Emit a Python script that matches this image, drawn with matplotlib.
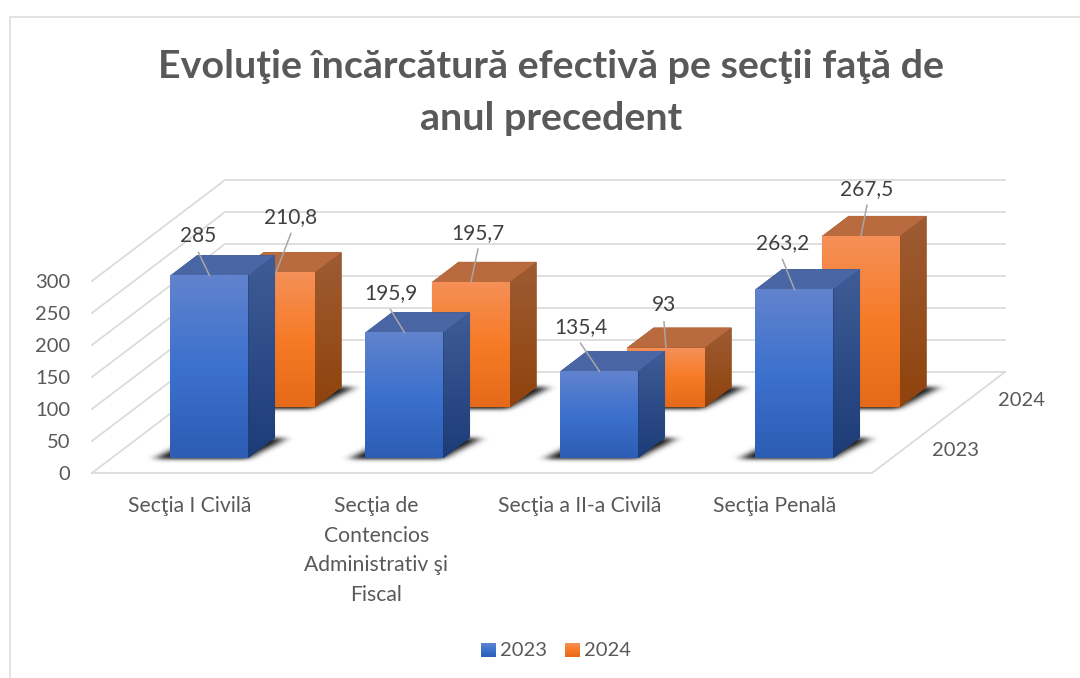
# -*- coding: utf-8 -*-
"""Grafic 3D cu bare: incarcatura efectiva pe sectii, 2023 fata de 2024."""

import numpy as np
import matplotlib
matplotlib.use("Agg")
import matplotlib.pyplot as plt
from matplotlib.patches import Polygon
from matplotlib.path import Path

plt.rcParams["font.family"] = ["Lato", "DejaVu Sans"]

CATEGORIES = ["Secţia I Civilă",
              "Secţia de\nContencios\nAdministrativ şi\nFiscal",
              "Secţia a II-a Civilă",
              "Secţia Penală"]
SERIES = ["2023", "2024"]
VALUES_2023 = [285, 195.9, 135.4, 263.2]
VALUES_2024 = [210.8, 195.7, 93, 267.5]
LABELS_2023 = ["285", "195,9", "135,4", "263,2"]
LABELS_2024 = ["210,8", "195,7", "93", "267,5"]
Y_TICKS = [0, 50, 100, 150, 200, 250, 300]
TITLE = "Evoluţie încărcătură efectivă pe secţii faţă de\nanul precedent"

# pozitia etichetelor fata de mijlocul muchiei de sus a barei (pixeli)
OFFSETS_2023 = [(-11, -41), (-14, -41), (-19, -46), (-12, -48)]
OFFSETS_2024 = [(15, -57), (7, -51), (-2, -44), (6, -49)]
CAT_DX = [0, -8, 0, 0]

# proiectia oblica: origine, latime categorie, adancime, pixeli pe unitate
X0, Y0 = 92, 473
CAT_W = 195
DEPTH_X, DEPTH_Y = 133, 101
PX_PER_UNIT = 0.64
BAR_W = 0.4
BAR_D = 0.2

GRID = "#D9D9D9"
TEXT = "#595959"
BLUE = {"front": ["#6283CD", "#3C71CE", "#2D5DB4"],
        "side": ["#3F5C96", "#1C3C78"],
        "top": ["#4A66A4", "#4A66A4"]}
ORANGE = {"front": ["#F59058", "#F77B26", "#E56A19"],
          "side": ["#9E5C33", "#8F430D"],
          "top": ["#B96B3F", "#B96B3F"]}


def proj(x, d, z):
    return X0 + CAT_W * x + DEPTH_X * d, Y0 - PX_PER_UNIT * z - DEPTH_Y * d


def gradient_poly(ax, pts, stops, zorder):
    pts = np.array(pts)
    n = 128
    t = np.linspace(0, 1, n)
    pos = np.linspace(0, 1, len(stops))
    rgb = np.array([matplotlib.colors.to_rgb(c) for c in stops])
    img = np.stack([np.interp(t, pos, rgb[:, k]) for k in range(3)], axis=1)
    img = img[:, None, :]
    ext = (pts[:, 0].min(), pts[:, 0].max(), pts[:, 1].max(), pts[:, 1].min())
    im = ax.imshow(img, extent=ext, aspect="auto", zorder=zorder,
                   interpolation="bilinear")
    clip = Polygon(pts, closed=True, transform=ax.transData)
    im.set_clip_path(clip)


def blur(mask, sigma, axis):
    r = int(3 * sigma)
    k = np.exp(-0.5 * (np.arange(-r, r + 1) / sigma) ** 2)
    k /= k.sum()
    return np.apply_along_axis(lambda m: np.convolve(m, k, mode="same"), axis, mask)


def draw_shadow(ax, x0, x1, d0, d1, zorder):
    # umbra estompata pe podea: amprenta barei, neteda mai mult pe orizontala
    pts = np.array([proj(x0 - 0.075, d0 - 0.012, 0), proj(x1, d0 - 0.012, 0),
                    proj(x1 + 0.065, d1, 0), proj(x0, d1, 0)])
    left, right = int(pts[:, 0].min()) - 25, int(pts[:, 0].max()) + 25
    up, down = int(pts[:, 1].min()) - 15, int(pts[:, 1].max()) + 15
    xx, yy = np.meshgrid(np.arange(left, right) + 0.5, np.arange(up, down) + 0.5)
    grid = np.column_stack([xx.ravel(), yy.ravel()])
    mask = Path(pts).contains_points(grid).reshape(xx.shape).astype(float)
    mask = blur(blur(mask, 5, 1), 2, 0)
    rgba = np.zeros(mask.shape + (4,))
    rgba[..., 3] = np.clip(mask * 0.95, 0, 1)
    ax.imshow(rgba, extent=(left, right, down, up), aspect="auto", zorder=zorder,
              interpolation="bilinear")


def draw_bar(ax, x0, d0, value, cols, zorder):
    x1, d1 = x0 + BAR_W, d0 + BAR_D
    front = [proj(x0, d0, 0), proj(x1, d0, 0), proj(x1, d0, value), proj(x0, d0, value)]
    side = [proj(x1, d0, 0), proj(x1, d1, 0), proj(x1, d1, value), proj(x1, d0, value)]
    top = [proj(x0, d0, value), proj(x1, d0, value), proj(x1, d1, value), proj(x0, d1, value)]
    # fond plin sub fete, ca marginile sa nu lase sa se vada ce e in spate
    hull = [front[0], front[1], side[1], side[2], top[3], front[3]]
    ax.add_patch(Polygon(hull, closed=True, fc=cols["side"][1], ec="none", zorder=zorder))
    gradient_poly(ax, side, cols["side"], zorder + 0.05)
    gradient_poly(ax, top, cols["top"], zorder + 0.1)
    gradient_poly(ax, front, cols["front"], zorder + 0.2)


fig = plt.figure(figsize=(10.8, 6.78), dpi=100)
ax = fig.add_axes([0, 0, 1, 1])
n_cat = len(CATEGORIES)

# chenar
ax.plot([9.5, 9.5, 1080], [678, 17, 17], color="#E2E2E2", lw=1.4, zorder=0.5)

# pereti si podea
for z in Y_TICKS:
    ax.plot(*zip(proj(0, 0, z), proj(0, 1, z), proj(n_cat, 1, z)), color=GRID, lw=1.2, zorder=1)
    ax.text(X0 - 22, Y0 - PX_PER_UNIT * z + 1, str(z), ha="right", va="center",
            fontsize=14.5, color=TEXT)
ax.plot(*zip(proj(0, 0, 0), proj(n_cat, 0, 0), proj(n_cat, 1, 0)), color=GRID, lw=1.2, zorder=1)

# barele: mai intai randul din spate
for depth, vals, cols, labels, offs, base_z in [
        (0.65, VALUES_2024, ORANGE, LABELS_2024, OFFSETS_2024, 2),
        (0.15, VALUES_2023, BLUE, LABELS_2023, OFFSETS_2023, 4)]:
    for i, v in enumerate(vals):
        x0 = i + (1 - BAR_W) / 2
        draw_shadow(ax, x0, x0 + BAR_W, depth, depth + BAR_D, base_z)
    for i, v in enumerate(vals):
        x0 = i + (1 - BAR_W) / 2
        draw_bar(ax, x0, depth, v, cols, base_z + 0.3)
    for i, v in enumerate(vals):
        x0 = i + (1 - BAR_W) / 2
        ax_, ay_ = proj(x0 + BAR_W / 2, depth, v)
        tx, ty = ax_ + offs[i][0], ay_ + offs[i][1]
        ax.plot([tx, ax_], [ty + 18, ay_], color="#A6A6A6", lw=1.1, zorder=8)
        ax.text(tx, ty + 1.5, labels[i], ha="center", va="center", fontsize=15,
                color="#404040", zorder=9)

# etichete de categorii si de adancime
for i, lab in enumerate(CATEGORIES):
    cx = proj(i + 0.5, 0, 0)[0] + CAT_DX[i]
    ax.text(cx, 496, lab, ha="center", va="top", fontsize=15.2, color=TEXT, linespacing=1.6)
for name, d in zip(SERIES, [0.25, 0.75]):
    px, py = proj(n_cat, d, 0)
    ax.text(px + 50, py + 3, name, ha="center", va="center", fontsize=14.5, color=TEXT)

# titlu
ax.text(551, 92.5, TITLE, ha="center", va="center", fontsize=28.4, fontweight="bold",
        color=TEXT, linespacing=1.62)

# legenda
for name, cols, sx in zip(SERIES, [BLUE, ORANGE], [481, 565]):
    gradient_poly(ax, [(sx, 643), (sx + 15, 643), (sx + 15, 657), (sx, 657)], cols["front"], 5)
    ax.text(sx + 19, 650, name, ha="left", va="center", fontsize=14.5, color=TEXT)

ax.set_xlim(0, 1080)
ax.set_ylim(678, 0)
ax.axis("off")
fig.savefig("out.png", dpi=100)
